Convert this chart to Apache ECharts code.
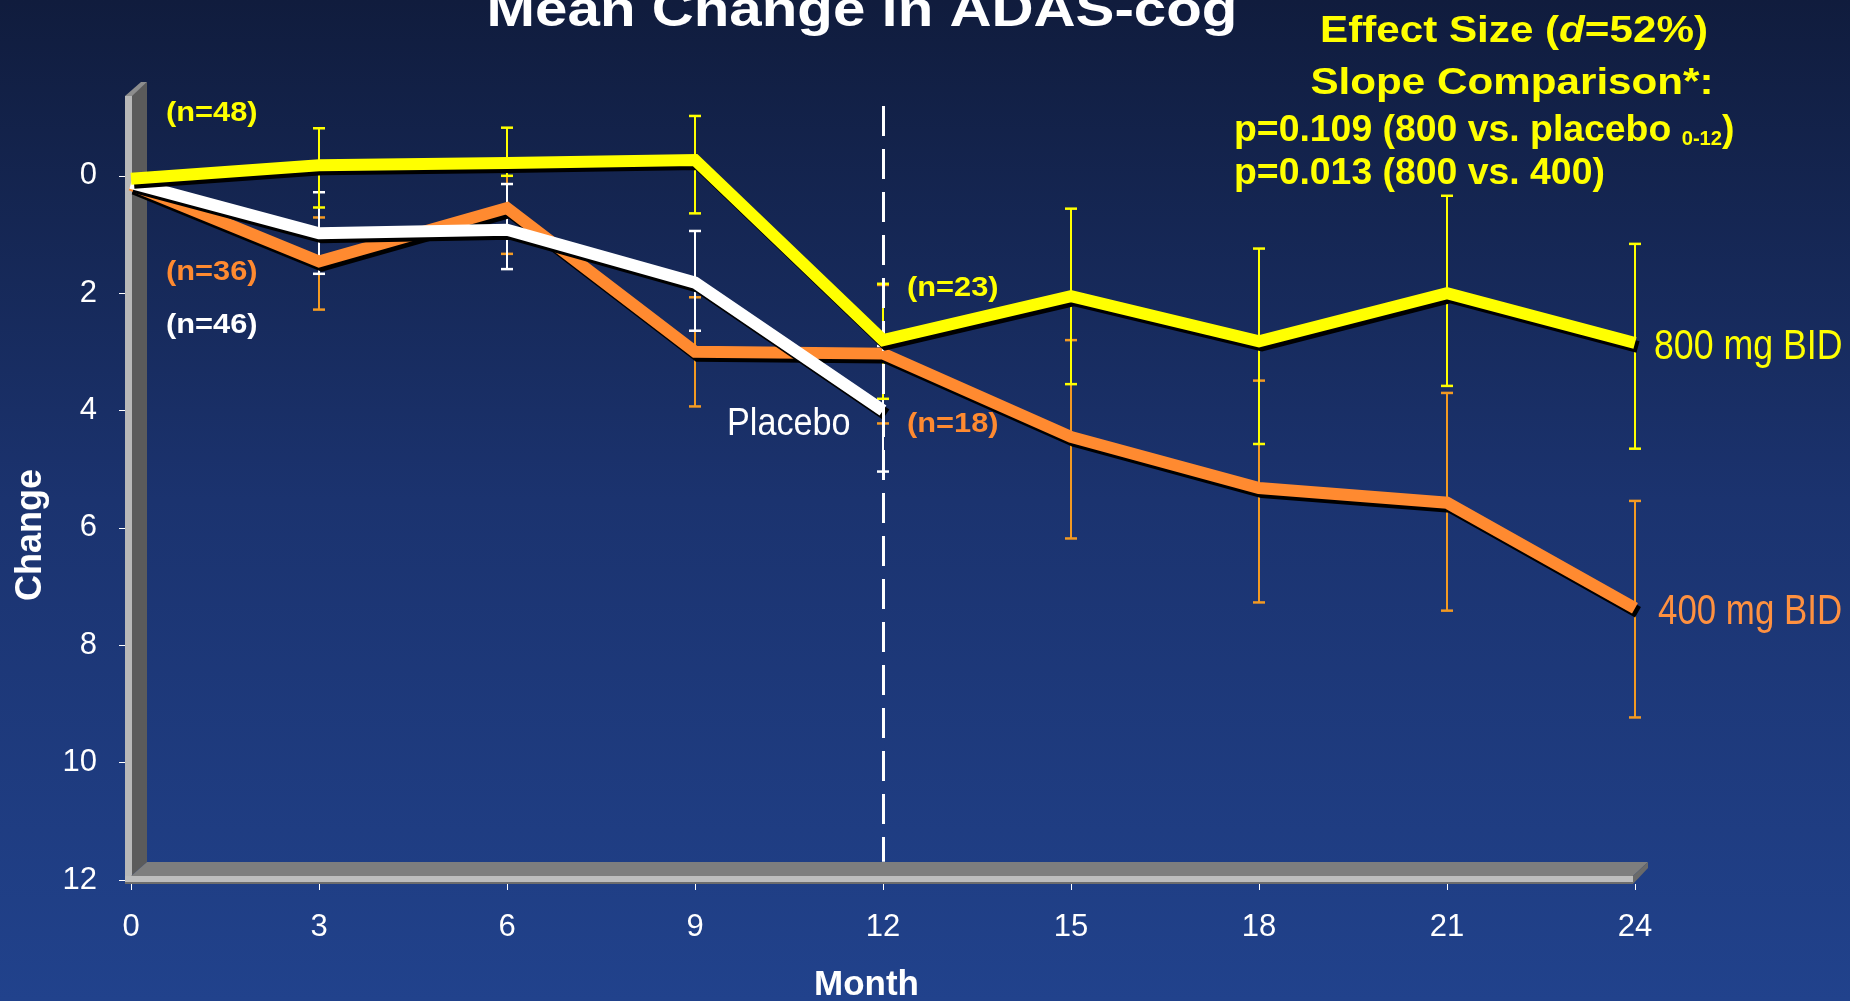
<!DOCTYPE html>
<html>
<head>
<meta charset="utf-8">
<script src="https://cdn.jsdelivr.net/npm/echarts@6/dist/echarts.min.js"></script>
<style>
  html, body { margin: 0; padding: 0; background: #1a3068; }
  #chart { width: 1850px; height: 1001px; }
</style>
</head>
<body>
<div id="chart"></div>
<script>
// Month of visit
const months = [0, 3, 6, 9, 12, 15, 18, 21, 24];
const monthsPlacebo = [0, 3, 6, 9, 12];

// Mean change in ADAS-cog with error-bar ends (top / bottom on the inverted axis)
const mean800 = [0.05, -0.18, -0.22, -0.27, 2.80, 2.05, 2.82, 2.00, 2.85];
const barTop800 = [null, -0.81, -0.82, -1.02, 1.84, 0.56, 1.24, 0.34, 1.16];
const barBottom800 = [null, 0.54, 0.00, 0.64, 3.80, 3.55, 4.57, 3.58, 4.65];

const mean400 = [0.15, 1.46, 0.55, 3.00, 3.03, 4.45, 5.32, 5.57, 7.37];
const barTop400 = [null, 0.71, -0.20, 2.07, 1.86, 2.80, 3.49, 3.70, 5.54];
const barBottom400 = [null, 2.28, 1.33, 3.93, 4.22, 6.18, 7.27, 7.41, 9.23];

const meanPlacebo = [0.12, 0.98, 0.92, 1.82, 4.00];
const barTopPlacebo = [null, 0.28, 0.14, 0.94, 2.90];
const barBottomPlacebo = [null, 1.67, 1.59, 2.64, 5.04];

// Axis tick values
const yTicks = [0, 2, 4, 6, 8, 10, 12];
const monthTickStep = 3;
const changeRange = [-1.36, 12];
const cutoffMonth = 12;

const FONT = '"Liberation Sans", Arial, Helvetica, sans-serif';
const YELLOW = '#ffff00';
const ORANGE = '#ff8a30';
const ORANGE_BAR = '#f39a22';
const WHITE = '#ffffff';

const W = 1850, H = 1001;
const GRID = { left: 131, right: 215, top: 96, bottom: 121 };

const chart = echarts.init(document.getElementById('chart'), null, { renderer: 'canvas' });

function pairs(xs, ys) { return xs.map((x, i) => [x, ys[i]]); }

function errorBars(xs, tops, bottoms, color) {
  return {
    type: 'custom',
    z: 2,
    silent: true,
    data: xs.map((x, i) => [x, tops[i], bottoms[i]]).filter(d => d[1] != null),
    encode: { x: 0, y: [1, 2] },
    renderItem: function (params, api) {
      const a = api.coord([api.value(0), api.value(1)]);
      const b = api.coord([api.value(0), api.value(2)]);
      const hw = 6;
      return {
        type: 'group',
        children: [
          { type: 'line', shape: { x1: a[0], y1: a[1], x2: b[0], y2: b[1] }, style: { stroke: color, lineWidth: 2 } },
          { type: 'line', shape: { x1: a[0] - hw, y1: a[1], x2: a[0] + hw, y2: a[1] }, style: { stroke: color, lineWidth: 2.5 } },
          { type: 'line', shape: { x1: b[0] - hw, y1: b[1], x2: b[0] + hw, y2: b[1] }, style: { stroke: color, lineWidth: 2.5 } }
        ]
      };
    }
  };
}

function meanLine(name, xs, ys, color, z) {
  return {
    name: name,
    type: 'line',
    z: z,
    silent: true,
    symbol: 'none',
    data: pairs(xs, ys),
    lineStyle: {
      color: color, width: 12, cap: 'butt', join: 'miter',
      shadowColor: '#000', shadowBlur: 0, shadowOffsetX: 3, shadowOffsetY: 4
    }
  };
}

function txt(text, x, y, o) {
  return {
    type: 'text', x: x, y: y, z: 10, silent: true,
    scaleX: o.sx || 1,
    style: {
      text: text,
      fill: o.color,
      fontSize: o.size,
      fontWeight: o.bold ? 'bold' : 'normal',
      fontFamily: FONT,
      align: o.align || 'left',
      verticalAlign: 'middle',
      textShadowColor: 'rgba(0,0,0,0.9)',
      textShadowBlur: 0,
      textShadowOffsetX: o.shadow || 2,
      textShadowOffsetY: o.shadow || 2,
      rich: o.rich
    }
  };
}

// 3D wall and floor of the plot frame
const x0 = GRID.left, x1 = W - GRID.right, yT = GRID.top, yB = H - GRID.bottom;
const DX = 16, DY = 14;
const frame = [
  { type: 'polygon', z: 1, silent: true, shape: { points: [[x0, yT], [x0 + DX, yT - DY], [x0 + DX, yB - 4 - DY], [x0, yB - 4]] }, style: { fill: '#5b5b5b' } },
  { type: 'polygon', z: 1, silent: true, shape: { points: [[x0 - 6, yT], [x0 - 6 + DX, yT - DY], [x0 + DX, yT - DY], [x0 + 1, yT]] }, style: { fill: '#8d8d8d' } },
  { type: 'rect', z: 1, silent: true, shape: { x: x0 - 6, y: yT, width: 7, height: yB + 4 - yT }, style: { fill: '#b8b8b8' } },
  { type: 'polygon', z: 1, silent: true, shape: { points: [[x0, yB - 4], [x0 + DX, yB - 4 - DY], [x1 + 13, yB - 4 - DY], [x1 - 2, yB - 4]] }, style: { fill: '#7e7e7e' } },
  { type: 'rect', z: 1, silent: true, shape: { x: x0 - 6, y: yB - 4, width: x1 - x0 + 4, height: 6 }, style: { fill: '#bdbdbd' } },
  { type: 'rect', z: 1, silent: true, shape: { x: x0 - 6, y: yB + 2, width: x1 - x0 + 4, height: 2 }, style: { fill: '#6d6d6d' } },
  { type: 'polygon', z: 1, silent: true, shape: { points: [[x1 - 2, yB - 4], [x1 + 13, yB - 4 - DY], [x1 + 13, yB - 12], [x1 - 2, yB + 4]] }, style: { fill: '#6a6a6a' } }
];

const richBold = (size, color, extra) => Object.assign({ fontSize: size, fontWeight: 'bold', fontFamily: FONT, fill: color,
  textShadowColor: 'rgba(0,0,0,0.9)', textShadowOffsetX: 2, textShadowOffsetY: 2 }, extra || {});

const texts = [
  txt('Mean Change in ADAS-cog', 862, 12, { color: WHITE, size: 50, bold: true, align: 'center', sx: 1.165, shadow: 3 }),
  txt('Effect Size ({i|d}=52%)', 1514, 32, { color: YELLOW, size: 37, bold: true, align: 'center', sx: 1.14,
    rich: { i: richBold(37, YELLOW, { fontStyle: 'italic' }) } }),
  txt('Slope Comparison*:', 1512, 84, { color: YELLOW, size: 37, bold: true, align: 'center', sx: 1.14 }),
  txt('p=0.109 (800 vs. placebo {sub|0-12})', 1234, 131, { color: YELLOW, size: 37, bold: true, sx: 1.01,
    rich: { sub: richBold(20, YELLOW, { verticalAlign: 'bottom' }) } }),
  txt('p=0.013 (800 vs. 400)', 1234, 174, { color: YELLOW, size: 37, bold: true, sx: 1.01 }),
  txt('(n=48)', 166, 113, { color: YELLOW, size: 28, bold: true, sx: 1.1 }),
  txt('(n=36)', 166, 272, { color: ORANGE, size: 28, bold: true, sx: 1.1 }),
  txt('(n=46)', 166, 325, { color: WHITE, size: 28, bold: true, sx: 1.1 }),
  txt('(n=23)', 907, 288, { color: YELLOW, size: 28, bold: true, sx: 1.1 }),
  txt('(n=18)', 907, 424, { color: ORANGE, size: 28, bold: true, sx: 1.1 }),
  txt('Placebo', 727, 425, { color: WHITE, size: 38, sx: 0.9 }),
  txt('800 mg BID', 1654, 347, { color: YELLOW, size: 42, sx: 0.85 }),
  txt('400 mg BID', 1658, 612, { color: '#ff9140', size: 42, sx: 0.83 })
];

const option = {
  animation: false,
  backgroundColor: {
    type: 'linear', x: 0, y: 0, x2: 0, y2: 1,
    colorStops: [
      { offset: 0, color: '#101c3d' },
      { offset: 0.5, color: '#1b336f' },
      { offset: 1, color: '#21428c' }
    ]
  },
  grid: Object.assign({ outerBoundsMode: 'none', containLabel: false }, GRID),
  xAxis: {
    type: 'value', min: 0, max: 24, interval: monthTickStep, offset: 4,
    axisLine: { show: false, onZero: false },
    axisTick: { show: true, length: 6, lineStyle: { color: WHITE, width: 1 } },
    axisLabel: { color: WHITE, fontSize: 31, fontFamily: FONT, margin: 28 },
    splitLine: { show: false },
    name: 'Month', nameLocation: 'middle', nameGap: 84,
    nameTextStyle: { color: WHITE, fontSize: 35, fontWeight: 'bold', fontFamily: FONT, padding: [0, 33, 0, 0],
      textShadowColor: 'rgba(0,0,0,0.9)', textShadowOffsetX: 2, textShadowOffsetY: 2 }
  },
  yAxis: {
    type: 'value', inverse: true, min: changeRange[0], max: changeRange[1], offset: 6,
    axisLine: { show: false, onZero: false },
    axisTick: { show: true, length: 6, customValues: yTicks, lineStyle: { color: WHITE, width: 1 } },
    axisLabel: { customValues: yTicks, color: WHITE, fontSize: 31, fontFamily: FONT, margin: 28, padding: [4, 0, 0, 0] },
    splitLine: { show: false },
    name: 'Change', nameLocation: 'middle', nameRotate: 90, nameGap: 76,
    nameTextStyle: { color: WHITE, fontSize: 36, fontWeight: 'bold', fontFamily: FONT, padding: [0, 94, 0, 0],
      textShadowColor: 'rgba(0,0,0,0.9)', textShadowOffsetX: 2, textShadowOffsetY: 2 }
  },
  series: [
    {
      type: 'line', z: 1, silent: true, data: [],
      markLine: {
        silent: true, symbol: ['none', 'none'], label: { show: false },
        lineStyle: { color: WHITE, width: 3, type: [30, 13] },
        data: [[{ coord: [cutoffMonth, -1.19] }, { coord: [cutoffMonth, 11.69] }]]
      }
    },
    errorBars(months, barTop400, barBottom400, ORANGE_BAR),
    errorBars(monthsPlacebo, barTopPlacebo, barBottomPlacebo, WHITE),
    errorBars(months, barTop800, barBottom800, YELLOW),
    meanLine('400 mg BID', months, mean400, ORANGE, 3),
    meanLine('Placebo', monthsPlacebo, meanPlacebo, WHITE, 4),
    meanLine('800 mg BID', months, mean800, YELLOW, 5)
  ],
  graphic: { elements: frame.concat(texts) }
};

chart.setOption(option);
</script>
</body>
</html>
